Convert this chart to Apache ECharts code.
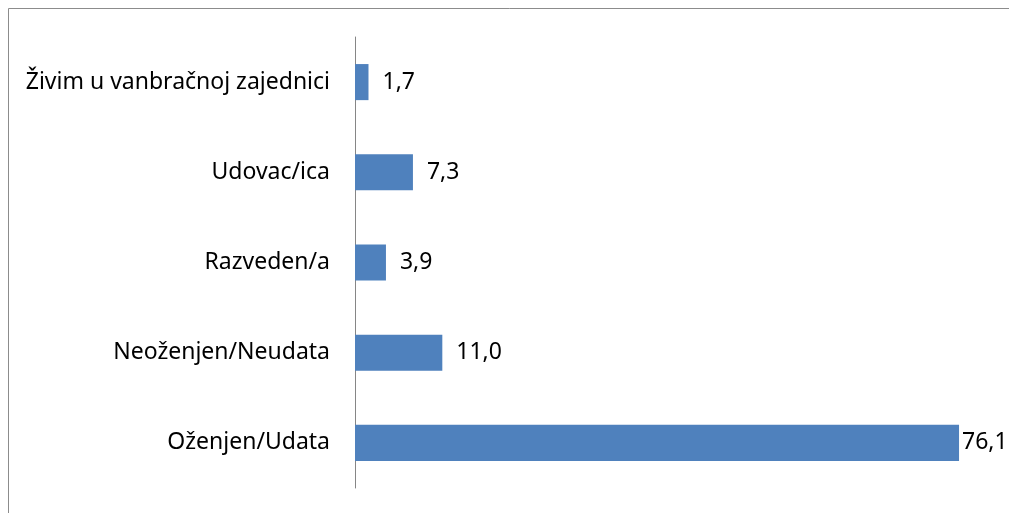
<!DOCTYPE html>
<html>
<head>
<meta charset="utf-8">
<script src="https://cdn.jsdelivr.net/npm/echarts@6/dist/echarts.min.js"></script>
<style>
  html, body { margin: 0; padding: 0; background: #fff; }
  #chart { width: 1009px; height: 513px; }
</style>
</head>
<body>
<div id="chart"></div>
<script>
// categories bottom -> top (ECharts category y-axis starts at the bottom)
const categories = ['Oženjen/Udata', 'Neoženjen/Neudata', 'Razveden/a', 'Udovac/ica', 'Živim u vanbračnoj zajednici'];
const values = [76.1, 11.0, 3.9, 7.3, 1.7];

const myChart = echarts.init(document.getElementById('chart'));
const fontFamily = '"Noto Sans", sans-serif';
const maxVal = Math.max(...values);

const option = {
  animation: false,
  graphic: [{
    type: 'rect',
    shape: { x: 8.5, y: 8.5, width: 1100, height: 600 },
    style: { fill: 'none', stroke: '#8c8c8c', lineWidth: 1 },
    silent: true
  }],
  grid: {
    left: 355,
    top: 37,
    width: 635,
    height: 451
  },
  xAxis: {
    type: 'value',
    min: 0,
    max: 80,
    show: false
  },
  yAxis: {
    type: 'category',
    data: categories,
    axisLine: { show: true, lineStyle: { color: '#868686', width: 1 } },
    axisTick: { show: false },
    axisLabel: {
      color: '#000',
      fontSize: 23,
      fontFamily: fontFamily,
      margin: 25
    }
  },
  series: [{
    type: 'bar',
    // the longest bar's label sits tight against the bar so it fits the frame
    data: values.map(v => v === maxVal ? { value: v, label: { distance: 3 } } : v),
    barCategoryGap: '60%',
    itemStyle: { color: '#4F81BD' },
    label: {
      show: true,
      position: 'right',
      distance: 14,
      color: '#000',
      fontSize: 23,
      fontFamily: fontFamily,
      formatter: (p) => p.value.toFixed(1).replace('.', ',')
    }
  }]
};
myChart.setOption(option);
</script>
</body>
</html>
